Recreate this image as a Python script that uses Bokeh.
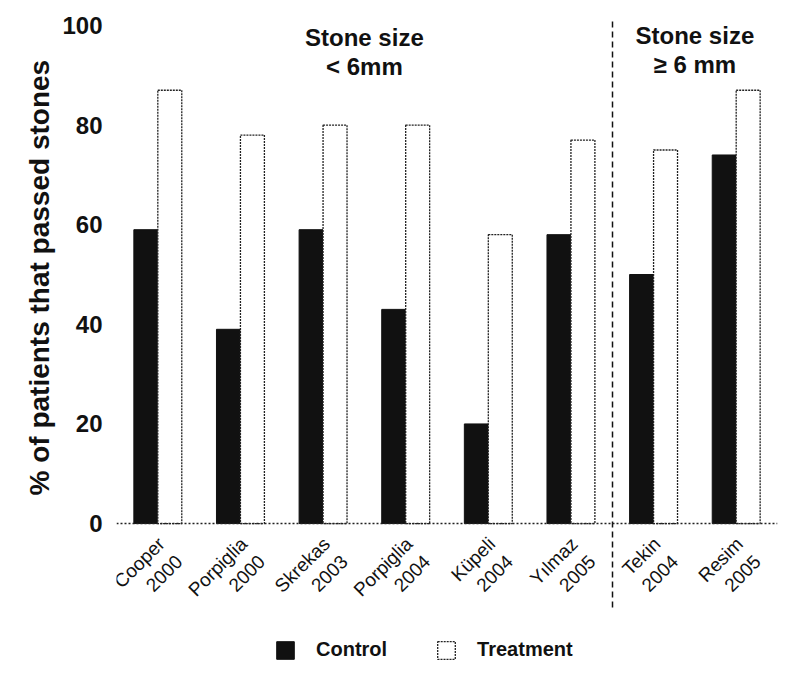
import math
from bokeh.plotting import figure
from bokeh.models import (Range1d, FactorRange, Legend, LegendItem, LinearAxis, Title,
                          ColumnDataSource, FixedTicker)
from bokeh.transform import dodge
from bokeh.core.properties import value
from bokeh.embed import file_html
from bokeh.resources import INLINE

# ---- data ----
studies = ["Cooper\n2000", "Porpiglia\n2000", "Skrekas\n2003", "Porpiglia\n2004",
           "Küpeli\n2004", "Yılmaz\n2005", "Tekin\n2004", "Resim\n2005"]
control = [59, 39, 59, 43, 20, 58, 50, 74]
treatment = [87, 78, 80, 80, 58, 77, 75, 87]
y_ticks = [0, 20, 40, 60, 80, 100]
y_title = "% of patients that passed stones"
group_labels = ["Stone size\n< 6mm", "Stone size\n≥ 6 mm"]
group_centers = [3.0, 7.0]      # boundaries in category units
separator_at = 6.0

FONT = "Liberation Sans"
INK = "#111111"

src = ColumnDataSource(dict(study=studies, control=control, treatment=treatment))

# the plot area reaches down to the legend; the study axis sits at y = 0
p = figure(frame_width=661, frame_height=645, x_range=FactorRange(*studies),
           y_range=Range1d(-28.5, 101), output_backend="svg", toolbar_location=None,
           min_border_left=116, min_border_right=15, min_border_top=20, min_border_bottom=0)
p.outline_line_color = None
p.xgrid.grid_line_color = None
p.ygrid.grid_line_color = None

bw = 0.29
r_ctrl = p.vbar(x=dodge("study", -bw / 2, range=p.x_range), top="control", width=bw, source=src,
                fill_color=INK, line_color=INK, line_width=1)
r_trt = p.vbar(x=dodge("study", bw / 2, range=p.x_range), top="treatment", width=bw, source=src,
               fill_color="white", line_color="#222222", line_width=1.3, line_dash="2 1")

# y axis
p.yaxis.ticker = FixedTicker(ticks=y_ticks)
p.yaxis.axis_line_color = None
p.yaxis.major_tick_line_color = None
p.yaxis.minor_tick_line_color = None
p.yaxis.major_label_text_font = FONT
p.yaxis.major_label_text_font_style = "bold"
p.yaxis.major_label_text_font_size = "24px"
p.yaxis.major_label_text_color = INK
p.yaxis.major_label_standoff = 8

# y title, placed along the 0-100 part of the axis
p.add_layout(Title(text=y_title, align="left", offset=170, text_font=FONT,
                   text_font_size="28px", text_font_style="bold", text_color=INK), "left")

# dashed separator between the groups: a long tick of an extra (label-less) axis at y = 0
sep_axis = LinearAxis(ticker=FixedTicker(ticks=[separator_at]), fixed_location=0,
                      axis_line_color=None,
                      major_tick_line_color=INK, major_tick_line_width=1.5,
                      major_tick_line_dash="6 4", major_tick_in=503, major_tick_out=84,
                      minor_tick_line_color=None, major_label_text_color=None,
                      major_label_text_font_size="1px", major_label_standoff=0)

# study labels: ticks set a little right of each category centre, as in the original
label_ticks = [round(i + 0.5 + 0.15, 3) for i in range(len(studies))]
label_axis = LinearAxis(ticker=FixedTicker(ticks=label_ticks), fixed_location=0,
                        major_label_overrides=dict(zip(label_ticks, studies)),
                        axis_line_dash="2 2", axis_line_color="#222222", axis_line_width=1.5,
                        major_tick_line_color=None, minor_tick_line_color=None,
                        major_label_orientation=math.pi / 4,
                        major_label_text_font=FONT, major_label_text_font_size="19px",
                        major_label_text_color=INK, major_label_standoff=20)

p.below = [sep_axis, label_axis]

# group headings
p.text(x=group_centers, y=[100.2, 100.6], text=group_labels, text_align="center",
       text_baseline="top", text_font=value(FONT), text_font_style="bold",
       text_font_size="24px", text_color=INK, text_line_height=1.05)

legend = Legend(items=[LegendItem(label="Control", renderers=[r_ctrl]),
                       LegendItem(label="Treatment", renderers=[r_trt])],
                orientation="horizontal", location=(158, 4),
                label_text_font=FONT, label_text_font_style="bold", label_text_font_size="20px",
                label_text_color=INK, glyph_width=22, glyph_height=22,
                label_standoff=20, spacing=48, border_line_color=None,
                background_fill_alpha=0, margin=0, padding=6)
p.add_layout(legend)

open("out.html", "w").write(file_html(p, INLINE))
